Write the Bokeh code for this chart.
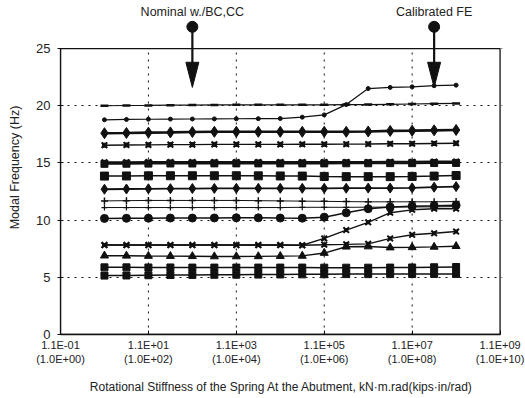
from bokeh.plotting import figure
from bokeh.models import FixedTicker, Range1d
from bokeh.embed import file_html
from bokeh.resources import INLINE
from bokeh.core.properties import value

# ---------------- data ----------------
stiffness = [1.1, 3.48, 11, 34.8, 110, 348, 1.1e3, 3.48e3, 1.1e4, 3.48e4,
             1.1e5, 3.48e5, 1.1e6, 3.48e6, 1.1e7, 3.48e7, 1.1e8]

mode_a = [20.0, 20.02, 20.03, 20.05, 20.06, 20.07, 20.08, 20.08, 20.08, 20.08, 20.08, 20.1, 20.1, 20.12, 20.15, 20.18, 20.2]
mode_b = [18.77, 18.8, 18.82, 18.83, 18.84, 18.85, 18.86, 18.87, 18.88, 19.0, 19.2, 20.1, 21.5, 21.6, 21.65, 21.75, 21.8]
mode_c = [17.6, 17.62, 17.65, 17.67, 17.7, 17.72, 17.72, 17.72, 17.72, 17.72, 17.72, 17.72, 17.75, 17.8, 17.82, 17.85, 17.88]
mode_d = [16.55, 16.57, 16.58, 16.6, 16.6, 16.62, 16.62, 16.62, 16.62, 16.63, 16.63, 16.64, 16.65, 16.67, 16.68, 16.7, 16.72]
mode_e1 = [15.05, 15.06, 15.07, 15.07, 15.08, 15.08, 15.08, 15.08, 15.08, 15.08, 15.08, 15.08, 15.08, 15.1, 15.1, 15.12, 15.12]
mode_e2 = [14.92, 14.93, 14.94, 14.95, 14.95, 14.96, 14.96, 14.96, 14.96, 14.96, 14.96, 14.97, 14.97, 14.98, 14.98, 14.99, 15.0]
mode_f = [13.85, 13.86, 13.87, 13.88, 13.88, 13.88, 13.88, 13.87, 13.86, 13.85, 13.82, 13.8, 13.8, 13.8, 13.82, 13.85, 13.9]
mode_g = [12.7, 12.72, 12.74, 12.75, 12.76, 12.77, 12.78, 12.78, 12.78, 12.78, 12.78, 12.79, 12.8, 12.8, 12.82, 12.88, 12.93]
mode_h1 = [11.68, 11.7, 11.72, 11.72, 11.72, 11.72, 11.72, 11.7, 11.68, 11.66, 11.64, 11.62, 11.6, 11.6, 11.6, 11.6, 11.62]
mode_h2 = [11.1, 11.1, 11.1, 11.1, 11.1, 11.1, 11.1, 11.1, 11.1, 11.12, 11.12, 11.12, 11.13, 11.14, 11.15, 11.16, 11.18]
mode_i = [10.15, 10.16, 10.17, 10.18, 10.18, 10.19, 10.2, 10.2, 10.18, 10.17, 10.26, 10.64, 11.0, 11.14, 11.22, 11.25, 11.3]
mode_j1 = [7.82, 7.82, 7.82, 7.82, 7.82, 7.82, 7.82, 7.82, 7.82, 7.8, 8.4, 9.13, 9.81, 10.65, 10.9, 11.0, 11.0]
mode_j2 = [7.82, 7.82, 7.82, 7.82, 7.82, 7.82, 7.82, 7.82, 7.82, 7.8, 7.85, 7.88, 7.92, 8.4, 8.72, 8.85, 9.0]
mode_k = [6.89, 6.88, 6.86, 6.85, 6.84, 6.82, 6.82, 6.83, 6.85, 6.87, 7.12, 7.67, 7.69, 7.6, 7.62, 7.66, 7.72]
mode_l = [5.87, 5.87, 5.86, 5.86, 5.85, 5.85, 5.85, 5.85, 5.85, 5.85, 5.84, 5.84, 5.84, 5.85, 5.86, 5.88, 5.9]
mode_m = [5.15, 5.16, 5.18, 5.2, 5.21, 5.22, 5.23, 5.24, 5.25, 5.26, 5.27, 5.28, 5.28, 5.28, 5.29, 5.3, 5.3]

x_ticks = [0.11, 11.0, 1100.0, 1.1e5, 1.1e7, 1.1e9]
x_tick_labels = ["1.1E-01\n(1.0E+00)", "1.1E+01\n(1.0E+02)", "1.1E+03\n(1.0E+04)",
                 "1.1E+05\n(1.0E+06)", "1.1E+07\n(1.0E+08)", "1.1E+09\n(1.0E+10)"]
y_ticks = [0, 5, 10, 15, 20, 25]

annot_x = [110, 3.48e7]
annot_text = ["Nominal w./BC,CC", "Calibrated FE"]

# ---------------- figure ----------------
FONT = "Liberation Sans"
INK = "#111111"
TXT = "#222222"

p = figure(width=525, height=398, x_axis_type="log",
           x_range=Range1d(0.11, 1.25e9), y_range=Range1d(0, 29.2),
           output_backend="svg", toolbar_location=None,
           min_border_left=60, min_border_right=23, min_border_top=0, min_border_bottom=64)
p.outline_line_color = None
p.background_fill_color = "white"
p.border_fill_color = "white"

# axes
p.xaxis.ticker = FixedTicker(ticks=x_ticks)
p.xaxis.major_label_overrides = dict(zip(x_ticks, x_tick_labels))
p.xaxis.bounds = (x_ticks[0], x_ticks[-1])
p.xaxis.axis_label = "Rotational Stiffness of the Spring At the Abutment, kN\u00b7m.rad(kips\u00b7in/rad)"
p.yaxis.ticker = FixedTicker(ticks=y_ticks)
p.yaxis.bounds = (y_ticks[0], y_ticks[-1])
p.yaxis.axis_label = "Modal Frequency (Hz)"
for ax in (p.xaxis, p.yaxis):
    ax.axis_line_color = INK
    ax.axis_line_width = 1.3
    ax.major_tick_line_color = INK
    ax.minor_tick_line_color = None
    ax.major_label_text_font = FONT
    ax.major_label_text_color = TXT
    ax.axis_label_text_font = FONT
    ax.axis_label_text_font_style = "normal"
    ax.axis_label_text_color = TXT
p.xaxis.major_tick_in = 4
p.xaxis.major_tick_out = 0
p.xaxis.major_label_standoff = 4
p.xaxis.major_label_text_font_size = "11px"
p.xaxis.axis_label_text_font_size = "12px"
p.xaxis.axis_label_standoff = 12
p.yaxis.major_tick_in = 3
p.yaxis.major_tick_out = 3
p.yaxis.major_label_standoff = 7
p.yaxis.major_label_text_font_size = "13px"
p.yaxis.axis_label_text_font_size = "12.5px"
p.yaxis.axis_label_standoff = 11

# grids
p.xgrid.visible = False
p.ygrid.grid_line_color = INK
p.ygrid.grid_line_dash = "2 5"
p.ygrid.grid_line_width = 1
p.segment(x0=x_ticks[1:-1], x1=x_ticks[1:-1], y0=[y_ticks[0]] * 4, y1=[y_ticks[-1]] * 4,
          line_color=INK, line_dash="2 5", line_width=1)

# plot box (top and right)
p.quad(left=[x_ticks[0]], right=[x_ticks[-1]], bottom=[y_ticks[0]], top=[y_ticks[-1]],
       fill_color=None, line_color=INK, line_width=1.3)

# ---------------- series ----------------
def series(vals, lw, markers):
    p.line(stiffness, vals, line_color=INK, line_width=lw)
    for mk, sz, mlw in markers:
        p.scatter(stiffness, vals, marker=mk, size=sz, fill_color=INK,
                  line_color=INK, line_width=mlw)

series(mode_a, 1.2, [("dash", 8, 2.5)])
series(mode_b, 1.2, [("circle", 4, 1)])
series(mode_c, 2.6, [("diamond", 11, 1)])
series(mode_d, 1.4, [("x", 8, 2), ("square", 4, 1)])
series(mode_e1, 2.0, [("x", 8, 2)])
series(mode_e2, 2.0, [("square", 7, 1)])
series(mode_f, 1.5, [("square", 8, 1)])
series(mode_g, 1.8, [("diamond", 10, 1)])
series(mode_h1, 1.0, [("cross", 7, 1.5)])
series(mode_h2, 1.0, [("cross", 6, 1.2)])
series(mode_i, 1.5, [("circle", 8, 1)])
series(mode_j1, 1.4, [("x", 8, 2), ("square", 3, 1)])
series(mode_j2, 1.4, [("x", 8, 2), ("square", 3, 1)])
series(mode_k, 1.4, [("triangle", 8, 1)])
series(mode_l, 1.5, [("square", 7, 1)])
series(mode_m, 1.5, [("square", 7, 1)])

# ---------------- annotations ----------------
half = 10 ** (6.5 / 44.0)
head_xs = [[x / half, x * half, x] for x in annot_x]
head_ys = [[23.8, 23.8, 21.6] for _ in annot_x]
p.segment(x0=annot_x, x1=annot_x, y0=[26.9] * 2, y1=[23.6] * 2, line_color=INK, line_width=2.2)
p.patches(head_xs, head_ys, fill_color=INK, line_color=INK, line_width=1)
p.scatter(annot_x, [26.9] * 2, marker="circle", size=11, fill_color=INK, line_color=INK)
p.text(annot_x, [28.2] * 2, text=annot_text, text_font=value(FONT), text_font_size="12.5px",
       text_color=TXT, text_align="center", text_baseline="middle")

open("out.html", "w").write(file_html(p, INLINE))
